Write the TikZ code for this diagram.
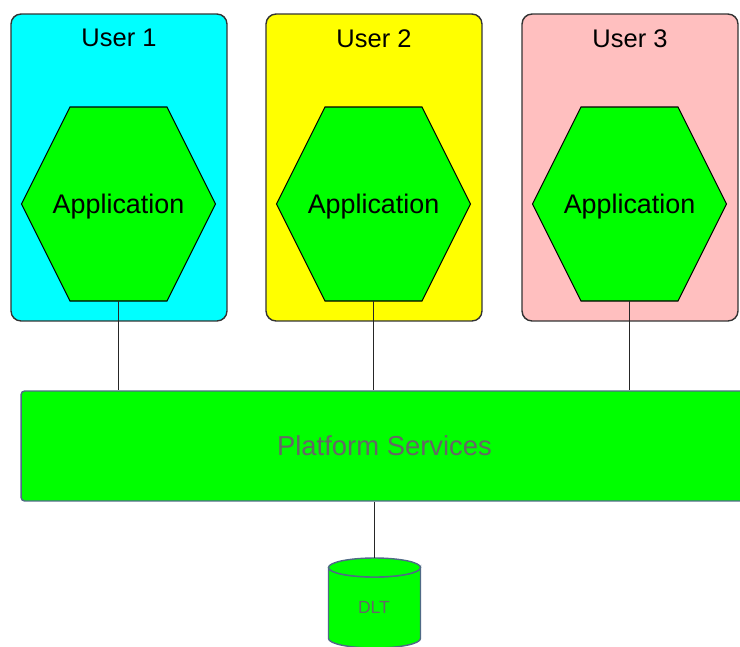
\documentclass[tikz,border=0pt]{standalone}
\usepackage{fontspec}
\setmainfont{Liberation Sans}
\usetikzlibrary{calc}
\definecolor{usercyan}{HTML}{00FFFF}
\definecolor{useryellow}{HTML}{FFFF00}
\definecolor{userpink}{HTML}{FFBFBF}
\definecolor{appgreen}{HTML}{00FF00}
\definecolor{edgeblue}{HTML}{4F6A86}
\definecolor{softtext}{HTML}{666666}

\begin{document}
\begin{tikzpicture}[x=0.02cm,y=-0.02cm,
  userbox/.style={draw=black!80,line width=0.8pt,rounded corners=0.2cm,
    minimum width=4.32cm,minimum height=6.14cm},
  usertitle/.style={font=\fontsize{14.5}{17}\selectfont},
  hexa/.style={draw=black,line width=0.6pt,fill=appgreen},
  apptext/.style={font=\fontsize{15.3}{18}\selectfont},
  platbox/.style={draw=edgeblue,line width=0.8pt,fill=appgreen,rounded corners=2pt,
    minimum width=14.54cm,minimum height=2.2cm,text=softtext,
    font=\fontsize{15.6}{18}\selectfont},
  drum/.style={draw=edgeblue,line width=0.8pt,fill=appgreen},
  link/.style={draw=black!85,line width=0.9pt}]
\useasboundingbox (0,0) rectangle (740,646);

% platform layer
\node[platbox] (plat) at (384.5,446) {Platform Services};

% users with their applications
\foreach \i/\x/\col in {1/119/usercyan,2/374/useryellow,3/630/userpink}{
  \node[userbox,fill=\col] (user\i) at (\x,167.5) {};
  \node[usertitle] (title\i) at ($(user\i.north)+(0,25)$) {User \i};
  \coordinate (app\i) at ($(user\i.center)+(-0.5,36.5)$);
  \draw[hexa] ($(app\i)+(-97,0)$) -- ++(48.5,-97) -- ++(97,0) -- ++(48.5,97)
    -- ++(-48.5,97) -- ++(-97,0) -- cycle;
  \node[apptext] (apptext\i) at ($(app\i)+(0,3)$) {Application};
  \coordinate (app\i-b) at ($(app\i)+(0,97)$);
  \draw[link] (app\i-b) -- (app\i-b |- plat.north);
}

% ledger store
\coordinate (dlttop) at (374.5,558);
\draw[drum] ($(dlttop)+(-46,9.5)$) -- ++(0,71)
  arc[start angle=180,end angle=360,x radius=46,y radius=-9.5] -- ++(0,-71)
  arc[start angle=0,end angle=-180,x radius=46,y radius=-9.5];
\draw[drum] ($(dlttop)+(0,9.5)$) ellipse[x radius=46,y radius=9.5];
\node[text=softtext,font=\fontsize{10}{12}\selectfont] (dlt) at (374,607) {DLT};
\draw[link] (dlttop |- plat.south) -- (dlttop);
\end{tikzpicture}
\end{document}
